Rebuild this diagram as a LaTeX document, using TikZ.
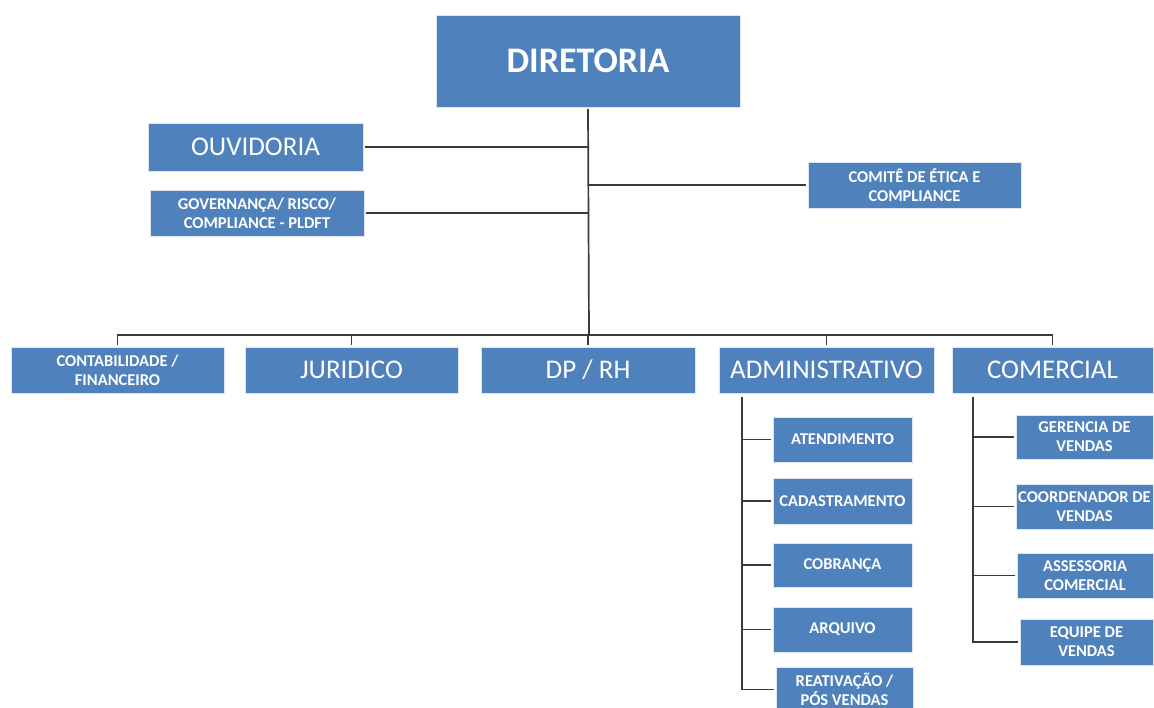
\documentclass[tikz,border=0pt]{standalone}
\usepackage{fontspec}
\setmainfont{Carlito}
\definecolor{boxblue}{HTML}{4F81BD}
\definecolor{linegray}{HTML}{3A3A3A}
\begin{document}
\begin{tikzpicture}[x=1pt,y=-1pt,
  box/.style={fill=boxblue, draw=white!80!boxblue, line width=0.6pt, text=white, align=center,
    inner sep=0pt, outer sep=2pt, font=\fontsize{16.5}{19}\selectfont\bfseries},
  bigtxt/.style={font=\fontsize{27}{32}\selectfont},
  conn/.style={draw=linegray, line width=1.7pt}]
\useasboundingbox (0,0) rectangle (1154,708);
% top
\node[box, minimum width=304pt, minimum height=92pt, font=\fontsize{36}{42}\selectfont\bfseries] (dir) at (588,61) {DIRETORIA};
\node[box, bigtxt, minimum width=215pt, minimum height=48pt] (ouv) at (255.5,147) {OUVIDORIA};
\node[box, minimum width=214pt, minimum height=46pt] (gov) at (257,213) {GOVERNANÇA/ RISCO/\\COMPLIANCE - PLDFT};
\node[box, minimum width=213pt, minimum height=46pt] (com) at (914.5,185) {COMITÊ DE ÉTICA E\\COMPLIANCE};
% second row
\node[box, minimum width=213pt, minimum height=46pt] (cont) at (117.5,370) {CONTABILIDADE /\\FINANCEIRO};
\node[box, bigtxt, minimum width=213pt, minimum height=46pt] (jur) at (351.5,370) {JURIDICO};
\node[box, bigtxt, minimum width=214pt, minimum height=46pt] (dp) at (588,370) {DP / RH};
\node[box, bigtxt, minimum width=215pt, minimum height=46pt] (adm) at (826.5,370) {ADMINISTRATIVO};
\node[box, bigtxt, minimum width=201pt, minimum height=46pt] (come) at (1052.5,370) {COMERCIAL};
% admin children
\node[box, minimum width=139pt, minimum height=45pt] (atend) at (842.5,439.5) {ATENDIMENTO};
\node[box, minimum width=139pt, minimum height=46pt] (cad) at (842.5,501) {CADASTRAMENTO};
\node[box, minimum width=139pt, minimum height=44pt] (cob) at (842.5,565) {COBRANÇA};
\node[box, minimum width=139pt, minimum height=45pt] (arq) at (842.5,629.5) {ARQUIVO};
\node[box, minimum width=137pt, minimum height=45pt] (reat) at (844.5,689.5) {REATIVAÇÃO /\\PÓS VENDAS};
% commercial children
\node[box, minimum width=137pt, minimum height=44pt] (ger) at (1084.5,437) {GERENCIA DE\\VENDAS};
\node[box, minimum width=137pt, minimum height=45pt] (coord) at (1084.5,506.5) {COORDENADOR DE\\VENDAS};
\node[box, minimum width=136pt, minimum height=45pt] (ass) at (1085,575.5) {ASSESSORIA\\COMERCIAL};
\node[box, minimum width=133pt, minimum height=46pt] (eq) at (1086.5,642) {EQUIPE DE\\VENDAS};
% coordinates
\coordinate (bus) at (589,335);
\coordinate (admtop) at (742,397);
\coordinate (comtop) at (973,397);
% connectors
\draw[conn] (dir.south) -- (bus);
\draw[conn] (ouv.east) -- (ouv.east -| bus);
\draw[conn] (gov.east) -- (gov.east -| bus);
\draw[conn] (com.west) -- (com.west -| bus);
\draw[conn] (cont.north) |- (come.north |- bus) -- (come.north);
\draw[conn] (jur.north) -- (jur.north |- bus);
\draw[conn] (dp.north) -- (dp.north |- bus);
\draw[conn] (adm.north) -- (adm.north |- bus);
\draw[conn] (admtop) |- (reat.west);
\foreach \n in {atend,cad,cob,arq} \draw[conn] (\n.west) -- (\n.west -| admtop);
\draw[conn] (comtop) |- (eq.west);
\foreach \n in {ger,coord,ass} \draw[conn] (\n.west) -- (\n.west -| comtop);
\end{tikzpicture}
\end{document}
